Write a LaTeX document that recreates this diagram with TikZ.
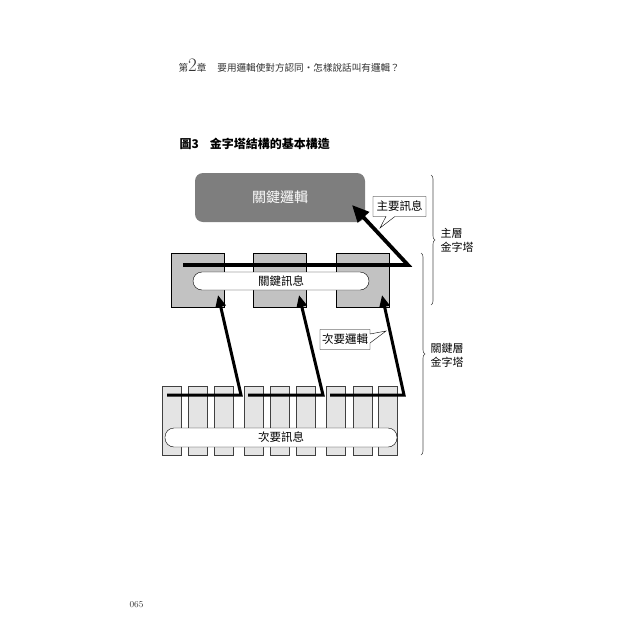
\documentclass[tikz,border=0pt]{standalone}
\usepackage{fontspec}
\usepackage{tikz}
\usetikzlibrary{arrows.meta,shapes.callouts,decorations.pathreplacing}
\newfontfamily\cjk{Noto Sans CJK TC}
\definecolor{logicgray}{HTML}{7E7E7E}
\definecolor{keygray}{HTML}{C2C2C2}
\definecolor{subgray}{HTML}{E4E4E4}

\begin{document}
\begin{tikzpicture}[x=1pt,y=-1pt,node distance=82.5pt,
  keybox/.style={draw,fill=keygray,minimum width=53pt,minimum height=54pt,inner sep=0pt},
  subbox/.style={draw=black!75,fill=subgray,minimum width=19pt,minimum height=69pt,inner sep=0pt},
  capsule/.style={draw,fill=white,rounded corners=9pt,inner sep=0pt,font=\cjk\fontsize{11.5}{12}\selectfont},
  note/.style={rectangle callout,draw,fill=white,inner sep=2pt,minimum height=20pt,
               callout pointer width=9pt,font=\cjk\fontsize{11.5}{12}\selectfont},
  mainarrow/.style={line width=3.8pt,line join=miter,-{Triangle[length=17pt,width=15pt]}},
  subarrow/.style={line width=3pt,line join=miter,-{Triangle[length=12pt,width=10pt]}},
  bracket/.style={decorate,decoration={brace,amplitude=4pt},draw=black!70,line width=0.6pt},
  side/.style={anchor=west,align=left,font=\cjk\fontsize{11}{14}\selectfont}]
\useasboundingbox (0,0) rectangle (640,640);

% page head, caption, page number
\node[anchor=west,black!80,font=\cjk\fontsize{9.6}{10}\selectfont] (head) at (175,66)
  {第{\rmfamily\fontsize{19}{19}\selectfont 2}章\hspace{11pt}要用邏輯使對方認同・怎樣說話叫有邏輯？};
\node[anchor=west,font=\cjk\bfseries\fontsize{12}{12}\selectfont] (title) at (176,144)
  {圖3\hspace{11pt}金字塔結構的基本構造};
\node[black!80,font=\fontsize{9}{9}\selectfont] (page) at (136.5,605) {065};

% top of the pyramid
\node[fill=logicgray,rounded corners=8pt,minimum width=170pt,minimum height=49pt,
      text=white,font=\cjk\fontsize{14}{14}\selectfont] (logic) at (280,197.5) {關鍵邏輯};

% key layer
\node[keybox]          (key_1)                     at (197.5,280) {};
\node[keybox]          (key_2) [right of=key_1]    {};
\node[keybox]          (key_3) [right of=key_2]    {};
\node[capsule,minimum width=176pt,minimum height=18pt] (key_msg) at (281,281) {關鍵訊息};

% sub layer
\node[subbox]          (sub_1)                     at (171.5,420.5) {};
\node[subbox]          (sub_2) [right of=sub_1,node distance=26pt] {};
\node[subbox]          (sub_3) [right of=sub_2,node distance=26pt] {};
\node[subbox]          (sub_4) [right of=sub_3,node distance=30pt] {};
\node[subbox]          (sub_5) [right of=sub_4,node distance=26pt] {};
\node[subbox]          (sub_6) [right of=sub_5,node distance=26pt] {};
\node[subbox]          (sub_7) [right of=sub_6,node distance=30.5pt] {};
\node[subbox]          (sub_8) [right of=sub_7,node distance=26.5pt] {};
\node[subbox]          (sub_9) [right of=sub_8,node distance=25.5pt] {};
\node[capsule,minimum width=232pt,minimum height=19pt] (sub_msg) at (281,437.5) {次要訊息};

% line ends
\coordinate (key_start) at (183,265);
\coordinate (key_turn)  at (408,265);
\coordinate (logic_tip) at (352,205);
\coordinate (sub_start_1) at (167,395);
\coordinate (sub_turn_1)  at (241,395);
\coordinate (key_tip_1)   at (218,295);
\coordinate (sub_start_2) at (248,395);
\coordinate (sub_turn_2)  at (323,395);
\coordinate (key_tip_2)   at (299,295);
\coordinate (sub_start_3) at (330,395);
\coordinate (sub_turn_3)  at (404,395);
\coordinate (key_tip_3)   at (382,295);

\draw[mainarrow] (key_start) -- (key_turn) -- (logic_tip);
\draw[subarrow]  (sub_start_1) -- (sub_turn_1) -- (key_tip_1);
\draw[subarrow]  (sub_start_2) -- (sub_turn_2) -- (key_tip_2);
\draw[subarrow]  (sub_start_3) -- (sub_turn_3) -- (key_tip_3);

% callouts
\coordinate (main_ptr) at (380,228);
\coordinate (sub_ptr)  at (386,331);
\node[note,minimum width=53pt,callout absolute pointer={(main_ptr)}] (main_note) at (399.5,206.5) {主要訊息};
\node[note,minimum width=50pt,callout absolute pointer={(sub_ptr)}]  (sub_note)  at (345,339.5) {次要邏輯};

% braces
\coordinate (top_a) at (431,175);
\coordinate (top_b) at (431,305);
\coordinate (low_a) at (421,253);
\coordinate (low_b) at (421,455);
\draw[bracket] (top_a) -- (top_b);
\draw[bracket] (low_a) -- (low_b);
\node[side] (top_label) at (437,240) {主層\\金字塔};
\node[side] (low_label) at (427,355) {關鍵層\\金字塔};
\end{tikzpicture}
\end{document}
